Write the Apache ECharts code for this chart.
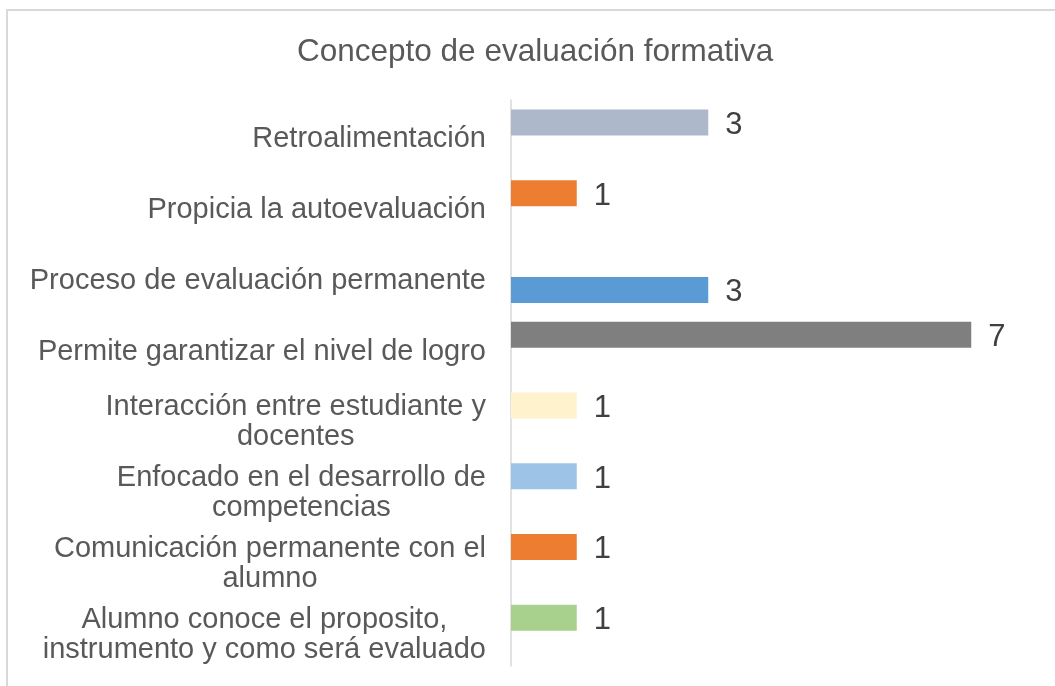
<!DOCTYPE html>
<html>
<head>
<meta charset="utf-8">
<script src="https://cdn.jsdelivr.net/npm/echarts@6/dist/echarts.min.js"></script>
<style>
  html, body { margin: 0; padding: 0; background: #fff; }
  #chart { width: 1055px; height: 686px; }
</style>
</head>
<body>
<div id="chart"></div>
<script>
// categories listed top to bottom, as in the picture
const categories = [
  'Retroalimentación',
  'Propicia la autoevaluación',
  'Proceso de evaluación permanente',
  'Permite garantizar el nivel de logro',
  'Interacción entre estudiante y\ndocentes',
  'Enfocado en el desarrollo de\ncompetencias',
  'Comunicación permanente con el\nalumno',
  'Alumno conoce el proposito,\ninstrumento y como será evaluado'
];
// Excel drew these as two series; only "Proceso" sits in the second slot
const seriesA = [3, 1, null, 7, 1, 1, 1, 1];
const seriesB = [null, null, 3, null, null, null, null, null];
const barColors = ['#ADB9CA', '#ED7D31', '#5B9BD5', '#7F7F7F', '#FFF2CC', '#9DC3E6', '#ED7D31', '#A9D18E'];

const font = '"Liberation Sans", Arial, sans-serif';

const toItems = (values) => values.map((v, i) => ({
  value: v,
  itemStyle: { color: barColors[i] }
}));

const valueLabel = {
  show: true,
  position: 'right',
  distance: 17,
  offset: [0, 3],
  color: '#404040',
  fontSize: 31,
  fontFamily: font
};

const chart = echarts.init(document.getElementById('chart'));

chart.setOption({
  animation: false,
  graphic: [{
    type: 'rect',
    shape: { x: 7, y: 10, width: 1200, height: 800 },
    style: { fill: 'none', stroke: '#D9D9D9', lineWidth: 2 },
    silent: true
  }],
  title: {
    text: 'Concepto de evaluación formativa',
    left: 297,
    top: 36,
    padding: 0,
    textStyle: { color: '#595959', fontSize: 31.5, fontWeight: 'normal', fontFamily: font }
  },
  grid: { left: 511, right: 18, top: 100, bottom: 20, containLabel: false },
  xAxis: {
    type: 'value',
    min: 0,
    max: 8,
    show: false
  },
  yAxis: {
    type: 'category',
    inverse: true,
    data: categories,
    axisLine: { show: true, lineStyle: { color: '#D9D9D9', width: 1.5 } },
    axisTick: { show: false },
    axisLabel: {
      margin: 25,
      align: 'right',
      padding: [8, 0, 0, 0],
      formatter: (v) => '{c|' + v + '}',
      rich: {
        c: {
          align: 'center',
          color: '#595959',
          fontSize: 29,
          lineHeight: 30,
          fontFamily: font
        }
      }
    }
  },
  series: [
    {
      type: 'bar',
      data: toItems(seriesA),
      barWidth: 26,
      barGap: '0%',
      label: valueLabel
    },
    {
      type: 'bar',
      data: toItems(seriesB),
      barWidth: 26,
      barGap: '0%',
      label: valueLabel
    }
  ]
});
</script>
</body>
</html>
